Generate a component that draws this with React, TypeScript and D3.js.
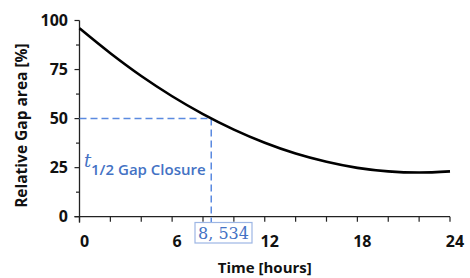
import React from "react";
import * as d3 from "d3";

// values
const hours = [0, 2, 4, 6, 8, 10, 12, 14, 16, 18, 20, 22, 24];
const gapArea = [96, 83.3, 71.7, 61.4, 52.3, 44.4, 37.7, 32.2, 28, 24.9, 23.1, 22.5, 23.1];
const xMajor = [0, 6, 12, 18, 24];
const yMajor = [0, 25, 50, 75, 100];
const halfTime = 8.534;
const halfValue = 50;
const halfLabel = "8, 534";

const W = 470;
const H = 278;
const blue = "#4472C4";
const font = "'Open Sans', sans-serif";

const App = () => {
  const x = d3.scaleLinear().domain([0, 24]).range([79.5, 450]);
  const y = d3.scaleLinear().domain([0, 100]).range([216.7, 20.5]);

  const xMinor = d3.range(0, 24.01, 2);
  const yMinor = d3.range(0, 100.01, 12.5);

  const line = d3
    .line<number>()
    .x((d, i) => x(hours[i]))
    .y((d) => y(d))
    .curve(d3.curveMonotoneX);

  const x0 = x(0);
  const y0 = y(0);
  const hx = x(halfTime);
  const hy = y(halfValue);

  return (
    <svg
      width={W}
      height={H}
      style={{ position: "absolute", left: 0, top: 0, background: "#fff" }}
    >
      {/* axes */}
      <line x1={x0} x2={x0} y1={y(100)} y2={y0 + 6} stroke="#222" strokeWidth={1.3} />
      <line x1={x0 - 5} x2={x(24)} y1={y0} y2={y0} stroke="#222" strokeWidth={1.3} />
      {yMinor.map((v) => (
        <line
          key={"ym" + v}
          x1={x0 - (v % 25 === 0 ? 5 : 3.5)}
          x2={x0}
          y1={y(v)}
          y2={y(v)}
          stroke="#222"
          strokeWidth={1.2}
        />
      ))}
      {xMinor.map((v) => (
        <line
          key={"xm" + v}
          x1={x(v)}
          x2={x(v)}
          y1={y0}
          y2={y0 + 5}
          stroke="#222"
          strokeWidth={1.2}
        />
      ))}
      {yMajor.map((v) => (
        <text
          key={"yl" + v}
          x={68}
          y={y(v)}
          dy="0.36em"
          textAnchor="end"
          fontFamily={font}
          fontWeight={700}
          fontSize={16}
          fill="#111"
        >
          {v}
        </text>
      ))}
      {xMajor.map((v) => (
        <text
          key={"xl" + v}
          x={x(v) + 5}
          y={247}
          textAnchor="middle"
          fontFamily={font}
          fontWeight={700}
          fontSize={16}
          fill="#111"
        >
          {v}
        </text>
      ))}
      <text
        x={(x(0) + x(24)) / 2}
        y={273}
        textAnchor="middle"
        fontFamily={font}
        fontWeight={700}
        fontSize={15}
        fill="#111"
      >
        Time [hours]
      </text>
      <text
        transform={`translate(27,${(y(100) + y0) / 2 + 7}) rotate(-90)`}
        textAnchor="middle"
        fontFamily={font}
        fontWeight={700}
        fontSize={15.5}
        fill="#111"
      >
        Relative Gap area [%]
      </text>

      {/* half-time guides */}
      <line
        x1={x0}
        x2={hx}
        y1={hy}
        y2={hy}
        stroke="#5b8ae0"
        strokeWidth={1.5}
        strokeDasharray="7 4"
      />
      <line
        x1={hx}
        x2={hx}
        y1={hy}
        y2={222.5}
        stroke="#5b8ae0"
        strokeWidth={1.5}
        strokeDasharray="7 4"
      />
      <rect x={195} y={222.5} width={57} height={20.5} fill="#fff" stroke="#9db6e4" strokeWidth={1.2} />
      <text
        x={223.5}
        y={238.8}
        textAnchor="middle"
        fontFamily="'DejaVu Serif', serif"
        fontSize={16}
        fill={blue}
      >
        {halfLabel}
      </text>
      <text x={84} y={167} fontFamily="'DejaVu Serif', serif" fontStyle="italic" fontSize={18} fill={blue}>
        t
      </text>
      <text x={91} y={174.5} fontFamily={font} fontWeight={600} fontSize={15} fill={blue}>
        <tspan>1/2</tspan>
        <tspan dx={4}>Gap Closure</tspan>
      </text>

      {/* fitted curve */}
      <path d={line(gapArea) || ""} fill="none" stroke="#000" strokeWidth={2.6} />
    </svg>
  );
};

export default App;
